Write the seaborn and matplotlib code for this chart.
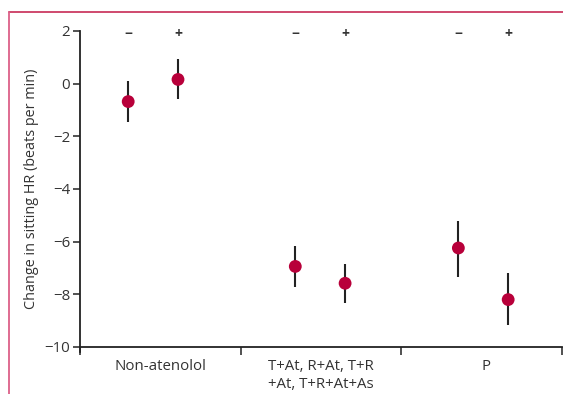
import numpy as np
import pandas as pd
import matplotlib
matplotlib.use("Agg")
import matplotlib.pyplot as plt
from matplotlib.lines import Line2D
import seaborn as sns

# ---- data ----
groups = ["Non-atenolol", "T+At, R+At, T+R\n+At, T+R+At+As", "P"]
subgroups = ["\u2212", "+"]
means = [-0.68, 0.16, -6.94, -7.58, -6.24, -8.20]
lower = [-1.44, -0.57, -7.74, -8.33, -7.33, -9.17]
upper = [0.09, 0.92, -6.15, -6.84, -5.20, -7.20]
yticks = [2, 0, -2, -4, -6, -8, -10]
ylabel = "Change in sitting HR (beats per min)"

sns.set_theme(style="white")
plt.rcParams["font.family"] = ["Open Sans", "DejaVu Sans"]

TEXT = "#333333"
RED = "#b8003a"

fig = plt.figure(figsize=(5.63, 3.94), dpi=100)
ax = fig.add_axes([80/563, 1-347/394, 482/563, (347-31)/394])

# x positions: group index + dodge offset
offsets = [0.30, 0.61]
shift = [0.0, 0.04, 0.055]
rows = []
for gi, g in enumerate(groups):
    for si, s in enumerate(subgroups):
        k = gi*2 + si
        rows.append(dict(group=g, sub=s, x=gi + offsets[si] + shift[gi],
                         mean=means[k], lo=lower[k], hi=upper[k]))
df = pd.DataFrame(rows)

ax.vlines(df["x"], df["lo"], df["hi"], color="#222222", lw=1.5, zorder=2)
sns.scatterplot(data=df, x="x", y="mean", color=RED, s=85, edgecolor="none",
                zorder=3, ax=ax, legend=False)

for _, r in df.iterrows():
    ax.text(r["x"], 1.9, r["sub"], ha="center", va="center", fontsize=10,
            fontweight="bold", color=TEXT)

ax.set_xlim(0, 3)
ax.set_ylim(-10, 2)
ax.set_yticks(yticks)
ax.set_yticklabels([str(v).replace("-", "\u2212") for v in yticks])
ax.set_xticks([0, 1, 2, 3])
ax.set_xticklabels([])
ax.set_xticks([0.5, 1.5, 2.53], minor=True)
ax.set_xticklabels(groups, minor=True)
ax.tick_params(axis="x", which="major", length=6, width=1.2, color="#333333", direction="out", bottom=True)
ax.tick_params(axis="x", which="minor", length=0, labelsize=10.8, labelcolor=TEXT, pad=9)
ax.tick_params(axis="y", length=5, width=1.2, color="#333333", direction="out", left=True,
               labelsize=10.8, labelcolor=TEXT, pad=2)
ax.set_xlabel("")
ax.set_ylabel(ylabel, fontsize=10.4, color=TEXT, labelpad=4)

for side in ["top", "right"]:
    ax.spines[side].set_visible(False)
for side in ["left", "bottom"]:
    ax.spines[side].set_color("#222222")
    ax.spines[side].set_linewidth(1.3)
ax.spines["left"].set_bounds(-10.2, 2)
ax.grid(False)

# pink frame
fig.add_artist(Line2D([8.5/563, 1], [1-12/394, 1-12/394], transform=fig.transFigure,
                      color="#cc3a62", lw=1.3))
fig.add_artist(Line2D([8.5/563, 8.5/563], [0, 1-12/394], transform=fig.transFigure,
                      color="#dc6088", lw=1.3))

fig.savefig("out.png", dpi=100)
